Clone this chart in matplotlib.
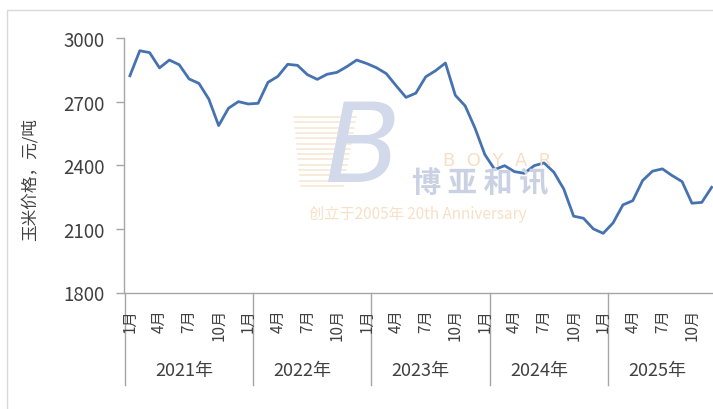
import matplotlib
matplotlib.use("Agg")
import matplotlib.pyplot as plt
import matplotlib.transforms as mtransforms
from matplotlib.patches import Rectangle

plt.rcParams['font.family'] = ['Noto Sans CJK SC', 'DejaVu Sans']

# ---- data (monthly corn price, yuan/ton, Jan 2021 - Dec 2025) ----
prices_2021 = [2822, 2940, 2931, 2859, 2896, 2874, 2807, 2786, 2712, 2587, 2669, 2700]
prices_2022 = [2689, 2692, 2791, 2819, 2876, 2871, 2827, 2805, 2829, 2838, 2865, 2896]
prices_2023 = [2880, 2860, 2832, 2775, 2720, 2740, 2817, 2846, 2882, 2730, 2680, 2575]
prices_2024 = [2450, 2380, 2398, 2370, 2362, 2398, 2411, 2367, 2288, 2160, 2150, 2100]
prices_2025 = [2079, 2128, 2213, 2233, 2328, 2372, 2383, 2351, 2323, 2221, 2225, 2296]
years = ['2021年', '2022年', '2023年', '2024年', '2025年']
month_labels = ['1月', '4月', '7月', '10月']
y_ticks = [1800, 2100, 2400, 2700, 3000]

prices = prices_2021 + prices_2022 + prices_2023 + prices_2024 + prices_2025
x = list(range(len(prices)))

W, H = 713, 410
fig = plt.figure(figsize=(W / 100, H / 100), dpi=100)

# outer frame (partially visible)
fig.patches.append(Rectangle((7 / W, -0.1), 1.2, (H - 11) / H + 0.1, transform=fig.transFigure,
                             fill=False, edgecolor='#d9d9d9', linewidth=1.0))

ax_left, ax_right = 124, 713
ax_top, ax_bot = 39, 293.5
ax = fig.add_axes([ax_left / W, (H - ax_bot) / H, (ax_right - ax_left) / W, (ax_bot - ax_top) / H])
ax_h = ax_bot - ax_top

# ---- watermark ----
wm_stripe = '#f8e6d2'
for k in range(14):
    yy = 118 + k * 5.3
    x0 = 294 + k * 0.5
    fig.add_artist(plt.Line2D([x0 / W, (x0 + 62 - k * 1.5) / W], [(H - yy) / H, (H - yy) / H],
                              color=wm_stripe, linewidth=1.1))
fig.text(362 / W, (H - 152) / H, 'B', fontsize=80, fontweight='normal', style='italic',
         color='#d2d9ea', ha='center', va='center', family=['DejaVu Sans'])
fig.text(497 / W, (H - 161) / H, 'B  O  Y  A  R', fontsize=13, color='#f6dfc4',
         ha='center', va='center', family=['DejaVu Sans'])
fig.text(480 / W, (H - 184) / H, '博 亚 和 讯', fontsize=21, fontweight='bold',
         color='#c9d1e3', ha='center', va='center')
fig.text(418 / W, (H - 214) / H, '创立于2005年 20th Anniversary', fontsize=11,
         color='#f7e0c6', ha='center', va='center')

# ---- line ----
ax.plot(x, prices, color='#4673b0', linewidth=2.0, solid_joinstyle='round', zorder=3)

px_per_unit = 9.86
x_left = -0.6
ax.set_xlim(x_left, x_left + (ax_right - ax_left) / px_per_unit)
ax.set_ylim(1800, 3000)
ax.set_yticks(y_ticks)
ax.set_yticklabels([str(v) for v in y_ticks], fontsize=13.5, color='#404040')
ax.tick_params(axis='y', direction='out', length=6, width=1, color='#a6a6a6', pad=8)
ax.set_xticks([])

for s in ['top', 'right']:
    ax.spines[s].set_visible(False)
ax.spines['left'].set_color('#a6a6a6')
ax.spines['bottom'].set_color('#a6a6a6')
ax.spines['left'].set_linewidth(1.0)
ax.spines['bottom'].set_linewidth(1.0)
ax.patch.set_alpha(0)

trans = mtransforms.blended_transform_factory(ax.transData, ax.transAxes)

def ay(pix):
    return (ax_bot - pix) / ax_h

# month labels
for yi in range(len(years)):
    for mi, lab in enumerate(month_labels):
        pos = yi * 12 + mi * 3
        ax.text(pos, ay(309), lab, transform=trans, rotation=90, ha='center', va='top',
                fontsize=11, color='#404040', clip_on=False)
    ax.text(yi * 12 + 5.5, ay(371), years[yi], transform=trans, ha='center', va='center',
            fontsize=13, color='#404040', clip_on=False)

# group boundaries
bounds = [-0.5] + [12 * k + 0.5 for k in range(1, len(years))]
for b in bounds:
    ax.plot([b, b], [0, ay(386)], transform=trans, color='#a6a6a6', linewidth=1.0, clip_on=False)

fig.text(30 / W, (H - 180) / H, '玉米价格，元/吨', rotation=90, ha='center', va='center',
         fontsize=12, color='#404040')

fig.savefig('out.png', dpi=100)
